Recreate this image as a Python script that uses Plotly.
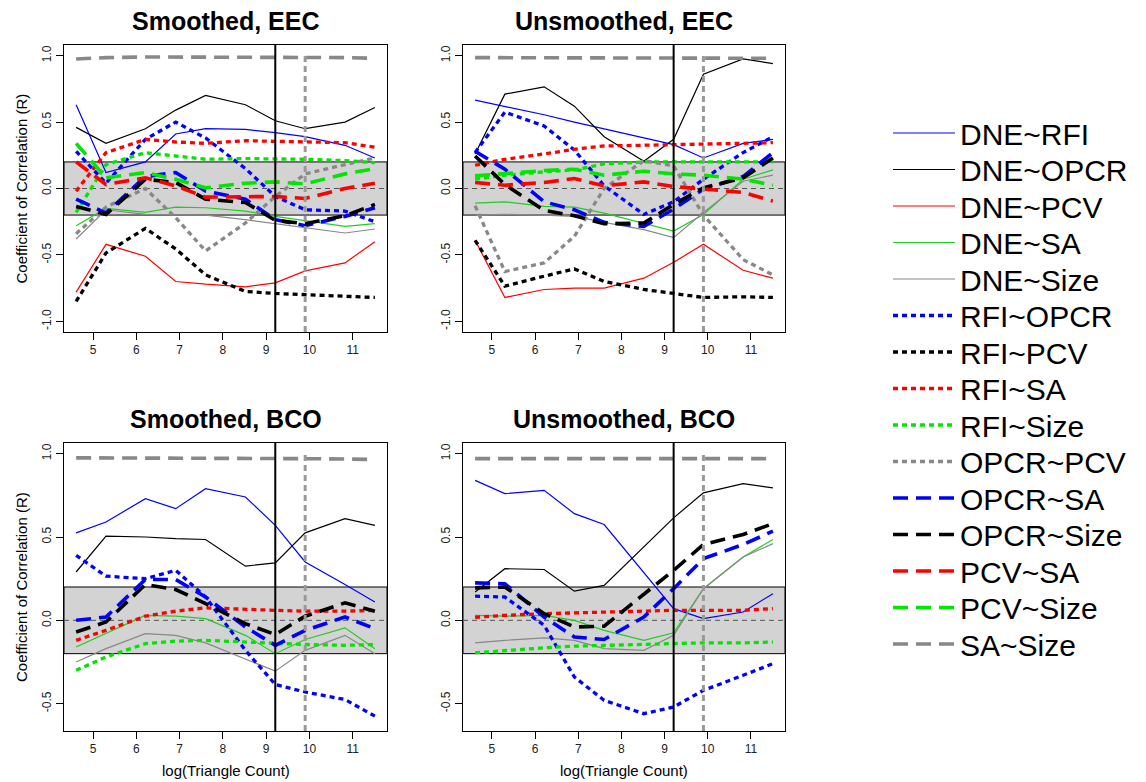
import plotly.graph_objects as go

W, H = 1146, 782

# ---------------- data ----------------
log_tri = [4.61, 5.30, 6.21, 6.91, 7.60, 8.52, 9.21, 9.90, 10.82, 11.51]

series_names = ["DNE~RFI", "DNE~OPCR", "DNE~PCV", "DNE~SA", "DNE~Size",
                "RFI~OPCR", "RFI~PCV", "RFI~SA", "RFI~Size", "OPCR~PCV",
                "OPCR~SA", "OPCR~Size", "PCV~SA", "PCV~Size", "SA~Size"]

smoothed_eec = {
    "DNE~RFI":   [0.63, 0.12, 0.20, 0.41, 0.45, 0.445, 0.42, 0.39, 0.325, 0.23],
    "DNE~OPCR":  [0.46, 0.34, 0.45, 0.59, 0.70, 0.63, 0.51, 0.45, 0.50, 0.61],
    "DNE~PCV":   [-0.78, -0.42, -0.51, -0.70, -0.72, -0.74, -0.71, -0.62, -0.56, -0.40],
    "DNE~SA":    [-0.28, -0.15, -0.18, -0.14, -0.145, -0.17, -0.21, -0.24, -0.285, -0.265],
    "DNE~Size":  [-0.38, -0.16, -0.195, -0.20, -0.20, -0.235, -0.265, -0.30, -0.335, -0.305],
    "RFI~OPCR":  [0.28, 0.04, 0.37, 0.50, 0.38, 0.15, -0.06, -0.16, -0.17, -0.25],
    "RFI~PCV":   [-0.85, -0.485, -0.30, -0.455, -0.65, -0.775, -0.79, -0.80, -0.81, -0.82],
    "RFI~SA":    [-0.02, 0.27, 0.37, 0.35, 0.34, 0.36, 0.355, 0.35, 0.345, 0.31],
    "RFI~Size":  [-0.18, 0.18, 0.27, 0.245, 0.22, 0.225, 0.225, 0.22, 0.21, 0.195],
    "OPCR~PCV":  [-0.34, -0.14, 0.00, -0.22, -0.47, -0.26, -0.06, 0.11, 0.18, 0.23],
    "OPCR~SA":   [-0.08, -0.185, 0.09, 0.12, -0.02, -0.08, -0.235, -0.28, -0.21, -0.145],
    "OPCR~Size": [-0.135, -0.195, 0.07, 0.045, -0.08, -0.105, -0.24, -0.265, -0.205, -0.12],
    "PCV~SA":    [0.20, 0.03, 0.08, 0.02, -0.065, -0.06, -0.06, -0.075, 0.0, 0.04],
    "PCV~Size":  [0.34, 0.08, 0.12, 0.07, 0.005, 0.04, 0.05, 0.035, 0.11, 0.15],
    "SA~Size":   [0.975, 0.985, 0.99, 0.99, 0.985, 0.985, 0.985, 0.985, 0.985, 0.98],
}

unsmoothed_eec = {
    "DNE~RFI":   [0.665, 0.62, 0.555, 0.50, 0.45, 0.385, 0.33, 0.23, 0.34, 0.37],
    "DNE~OPCR":  [0.26, 0.71, 0.765, 0.62, 0.39, 0.205, 0.37, 0.86, 0.975, 0.94],
    "DNE~PCV":   [-0.39, -0.82, -0.76, -0.75, -0.75, -0.675, -0.555, -0.42, -0.615, -0.675],
    "DNE~SA":    [-0.11, -0.10, -0.135, -0.14, -0.185, -0.26, -0.32, -0.195, 0.07, 0.14],
    "DNE~Size":  [-0.20, -0.195, -0.20, -0.21, -0.255, -0.31, -0.37, -0.18, 0.055, 0.10],
    "RFI~OPCR":  [0.27, 0.575, 0.47, 0.29, 0.02, -0.195, -0.10, 0.07, 0.27, 0.39],
    "RFI~PCV":   [-0.39, -0.735, -0.66, -0.605, -0.70, -0.76, -0.79, -0.82, -0.815, -0.82],
    "RFI~SA":    [0.175, 0.22, 0.26, 0.295, 0.32, 0.325, 0.33, 0.33, 0.34, 0.345],
    "RFI~Size":  [0.07, 0.10, 0.125, 0.14, 0.185, 0.20, 0.20, 0.20, 0.205, 0.20],
    "OPCR~PCV":  [-0.13, -0.625, -0.56, -0.36, 0.00, 0.21, 0.17, -0.20, -0.535, -0.65],
    "OPCR~SA":   [0.28, 0.145, -0.10, -0.16, -0.255, -0.285, -0.155, -0.005, 0.09, 0.27],
    "OPCR~Size": [0.245, 0.03, -0.165, -0.205, -0.265, -0.26, -0.12, 0.005, 0.08, 0.23],
    "PCV~SA":    [0.045, 0.025, 0.045, 0.075, 0.02, 0.05, 0.015, -0.005, -0.03, -0.095],
    "PCV~Size":  [0.095, 0.115, 0.135, 0.145, 0.10, 0.13, 0.11, 0.10, 0.07, 0.025],
    "SA~Size":   [0.985, 0.985, 0.985, 0.985, 0.985, 0.985, 0.985, 0.985, 0.985, 0.98],
}

smoothed_bco = {
    "DNE~RFI":   [0.525, 0.59, 0.73, 0.67, 0.79, 0.74, 0.57, 0.35, 0.215, 0.11],
    "DNE~OPCR":  [0.29, 0.505, 0.50, 0.49, 0.485, 0.325, 0.345, 0.525, 0.61, 0.57],
    "DNE~SA":    [-0.16, -0.08, 0.03, 0.025, 0.01, -0.09, -0.20, -0.115, -0.045, -0.17],
    "DNE~Size":  [-0.25, -0.17, -0.08, -0.09, -0.135, -0.23, -0.305, -0.18, -0.09, -0.20],
    "RFI~OPCR":  [0.39, 0.265, 0.25, 0.30, 0.14, -0.18, -0.385, -0.43, -0.475, -0.575],
    "RFI~SA":    [-0.12, -0.06, 0.025, 0.055, 0.075, 0.065, 0.06, 0.055, 0.055, 0.06],
    "RFI~Size":  [-0.30, -0.22, -0.14, -0.125, -0.12, -0.13, -0.14, -0.145, -0.15, -0.145],
    "OPCR~SA":   [0.0, 0.02, 0.245, 0.245, 0.14, -0.04, -0.15, -0.06, 0.02, -0.05],
    "OPCR~Size": [-0.07, -0.01, 0.215, 0.185, 0.10, -0.02, -0.085, 0.025, 0.105, 0.055],
    "SA~Size":   [0.975, 0.975, 0.975, 0.975, 0.972, 0.97, 0.97, 0.97, 0.968, 0.965],
}

unsmoothed_bco = {
    "DNE~RFI":   [0.84, 0.76, 0.78, 0.64, 0.575, 0.29, 0.07, 0.01, 0.05, 0.16],
    "DNE~OPCR":  [0.17, 0.31, 0.305, 0.175, 0.21, 0.445, 0.615, 0.765, 0.82, 0.795],
    "DNE~SA":    [0.03, 0.025, 0.03, 0.0, -0.06, -0.12, -0.075, 0.19, 0.38, 0.485],
    "DNE~Size":  [-0.135, -0.12, -0.105, -0.12, -0.17, -0.18, -0.09, 0.19, 0.38, 0.46],
    "RFI~OPCR":  [0.145, 0.14, -0.03, -0.34, -0.48, -0.56, -0.52, -0.42, -0.33, -0.26],
    "RFI~SA":    [0.018, 0.03, 0.04, 0.045, 0.05, 0.055, 0.06, 0.06, 0.06, 0.07],
    "RFI~Size":  [-0.195, -0.18, -0.165, -0.155, -0.15, -0.145, -0.14, -0.135, -0.135, -0.13],
    "OPCR~SA":   [0.225, 0.22, 0.02, -0.10, -0.115, 0.02, 0.19, 0.37, 0.455, 0.535],
    "OPCR~Size": [0.195, 0.20, 0.04, -0.04, -0.035, 0.16, 0.30, 0.455, 0.515, 0.58],
    "SA~Size":   [0.97, 0.97, 0.97, 0.97, 0.97, 0.97, 0.97, 0.97, 0.97, 0.97],
}

panel_titles = ["Smoothed, EEC", "Unsmoothed, EEC", "Smoothed, BCO", "Unsmoothed, BCO"]
x_ticks = [5, 6, 7, 8, 9, 10, 11]
y_ticks_eec = [-1.0, -0.5, 0.0, 0.5, 1.0]
y_ticks_bco = [-0.5, 0.0, 0.5, 1.0]
band_limits = [-0.2, 0.2]
vline_solid = 9.21
vline_dotted = 9.90

# ---------------- styles ----------------
FONT = "Liberation Sans, Arial, Helvetica, sans-serif"
colors_thin = ["#0000FF", "#000000", "#FF0000", "#22CC22", "#888888"]
colors_thick = ["#0000FF", "#000000", "#FF0000", "#00E600", "#888888"]


def line_style(i):
    kind = i // 5
    c = i % 5
    if kind == 0:
        return dict(color=colors_thin[c], width=1.2)
    if kind == 1:
        return dict(color=colors_thick[c], width=3.3, dash="5px,4px")
    return dict(color=colors_thick[c], width=3.6, dash="15px,8px")


# panel pixel boxes: (left, right, top, bottom)
boxes = [(64, 387, 45, 332), (463, 785, 45, 332),
         (64, 387, 443, 731), (463, 785, 443, 731)]
panels = [smoothed_eec, unsmoothed_eec, smoothed_bco, unsmoothed_bco]
yranges = [[-1.08, 1.08], [-1.08, 1.08], [-0.664, 1.064], [-0.664, 1.064]]
yticks = [y_ticks_eec, y_ticks_eec, y_ticks_bco, y_ticks_bco]

# legend placement (one legend box per row so rows can sit close together)
LEG_X, LEG_Y0, LEG_DY = 888, 133, 36.5


def legend_id(i):
    return "legend" if i == 0 else f"legend{i + 1}"


fig = go.Figure()
layout = dict(
    width=W, height=H,
    margin=dict(l=0, r=0, t=0, b=0),
    paper_bgcolor="white", plot_bgcolor="white",
    font=dict(family=FONT, color="black"),
    showlegend=True,
)
for i in range(len(series_names)):
    layout[legend_id(i)] = dict(
        x=LEG_X / W, y=1 - (LEG_Y0 + LEG_DY * i) / H, xanchor="left", yanchor="middle",
        font=dict(size=30, family=FONT, color="black"),
        itemwidth=62, bgcolor="rgba(0,0,0,0)", borderwidth=0)

shapes = []
annotations = []

for p, (data, (l, r, t, b)) in enumerate(zip(panels, boxes)):
    n = p + 1
    xa = "x" if n == 1 else f"x{n}"
    ya = "y" if n == 1 else f"y{n}"
    layout["xaxis" if n == 1 else f"xaxis{n}"] = dict(
        domain=[l / W, r / W], anchor=ya, range=[4.33, 11.79],
        tickvals=x_ticks, ticks="outside", ticklen=7, tickwidth=1, tickcolor="black",
        showline=True, linecolor="black", linewidth=1, mirror=True,
        showgrid=False, zeroline=False,
        tickfont=dict(size=12, family=FONT, color="#222"))
    layout["yaxis" if n == 1 else f"yaxis{n}"] = dict(
        domain=[1 - b / H, 1 - t / H], anchor=xa, range=yranges[p],
        tickvals=yticks[p], ticktext=[f"{v:.1f}" for v in yticks[p]], tickangle=-90,
        ticks="outside", ticklen=7, tickwidth=1, tickcolor="black",
        showline=True, linecolor="black", linewidth=1, mirror=True,
        showgrid=False, zeroline=False,
        tickfont=dict(size=12, family=FONT, color="#222"))

    # grey band and zero line
    shapes.append(dict(type="rect", xref=f"{xa} domain", yref=ya, x0=0, x1=1,
                       y0=band_limits[0], y1=band_limits[1], fillcolor="#D3D3D3",
                       line=dict(color="black", width=1), layer="below"))
    shapes.append(dict(type="line", xref=f"{xa} domain", yref=ya, x0=0, x1=1,
                       y0=0, y1=0, line=dict(color="#555555", width=1, dash="5px,4px"),
                       layer="below"))
    # vertical reference lines
    shapes.append(dict(type="line", xref=xa, yref=f"{ya} domain", x0=vline_solid,
                       x1=vline_solid, y0=0, y1=1, line=dict(color="black", width=2),
                       layer="above"))
    shapes.append(dict(type="line", xref=xa, yref=f"{ya} domain", x0=vline_dotted,
                       x1=vline_dotted, y0=0, y1=0.97,
                       line=dict(color="#999999", width=3, dash="6px,4px"), layer="above"))

    for i, name in enumerate(series_names):
        if name not in data:
            continue
        fig.add_trace(go.Scatter(
            x=log_tri, y=data[name], mode="lines", name=name,
            line=line_style(i), xaxis=xa, yaxis=ya,
            legend=legend_id(i), legendgroup=name, showlegend=(p == 0)))

    cx = (l + r) / 2 / W
    annotations.append(dict(text=f"<b>{panel_titles[p]}</b>", x=cx, y=1 - (t - 24) / H,
                            xref="paper", yref="paper", showarrow=False,
                            xanchor="center", yanchor="middle",
                            font=dict(size=25, family=FONT, color="black")))
    if p >= 2:
        annotations.append(dict(text="log(Triangle Count)", x=cx, y=1 - 770 / H,
                                xref="paper", yref="paper", showarrow=False,
                                xanchor="center", yanchor="middle",
                                font=dict(size=15, family=FONT, color="black")))
    if p % 2 == 0:
        annotations.append(dict(text="Coefficient of Correlation (R)", x=21 / W,
                                y=1 - (t + b) / 2 / H, xref="paper", yref="paper",
                                showarrow=False, textangle=-90,
                                xanchor="center", yanchor="middle",
                                font=dict(size=15, family=FONT, color="black")))

layout["shapes"] = shapes
layout["annotations"] = annotations
fig.update_layout(**layout)
fig.write_html("out.html")
